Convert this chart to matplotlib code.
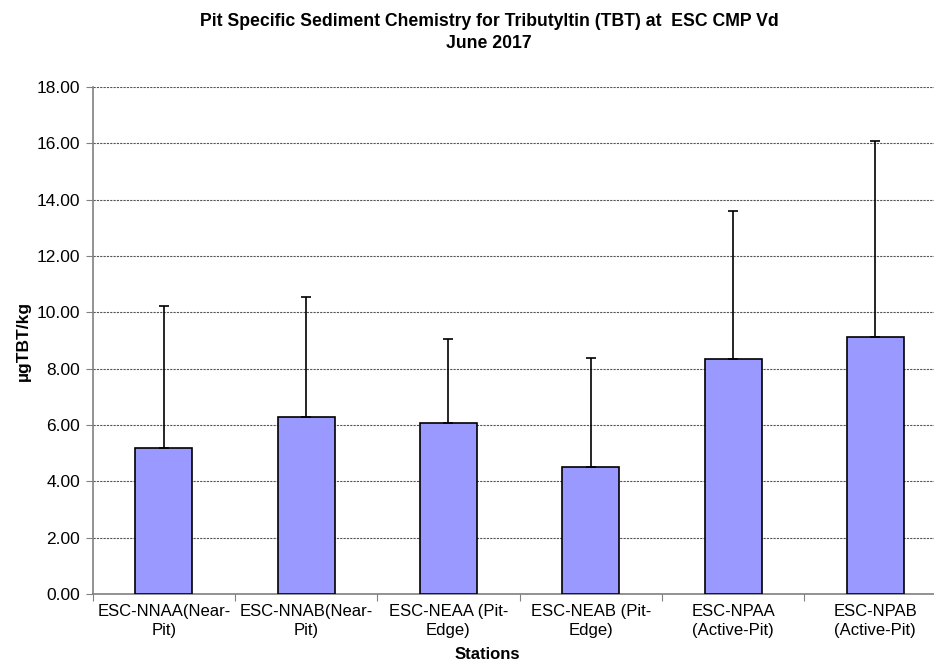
import numpy as np
import matplotlib.pyplot as plt

plt.rcParams['font.family'] = ['Liberation Sans', 'DejaVu Sans']

stations = ["ESC-NNAA(Near-\nPit)", "ESC-NNAB(Near-\nPit)", "ESC-NEAA (Pit-\nEdge)",
            "ESC-NEAB (Pit-\nEdge)", "ESC-NPAA\n(Active-Pit)", "ESC-NPAB\n(Active-Pit)"]
tbt_mean = [5.20, 6.28, 6.07, 4.50, 8.36, 9.11]
tbt_err = [5.02, 4.27, 2.98, 3.88, 5.22, 6.95]
y_ticks = [0, 2, 4, 6, 8, 10, 12, 14, 16, 18]

fig = plt.figure(figsize=(9.34, 6.64), dpi=100)
ax = fig.add_axes([0.0993, 0.105, 0.9141, 0.7644])

x = np.arange(len(stations))
ax.bar(x, tbt_mean, width=0.40, color="#9999ff", edgecolor="black", linewidth=1.2, zorder=3)
ax.errorbar(x, tbt_mean, yerr=[np.zeros(len(x)), tbt_err], fmt="none", ecolor="black",
            elinewidth=1.2, capsize=3.5, capthick=1.2, zorder=4)

ax.set_xlim(-0.5, len(stations) - 0.5)
ax.set_ylim(0, 18)
ax.set_yticks(y_ticks)
ax.set_yticklabels([f"{v:.2f}" for v in y_ticks], fontsize=12.5)
ax.yaxis.grid(True, linestyle=(0, (2, 1)), color="#555555", linewidth=0.8, zorder=0)

ax.set_xticks(np.arange(-0.5, len(stations)), minor=False)
ax.set_xticklabels([])
ax.set_xticks(x, minor=True)
ax.set_xticklabels(stations, minor=True, fontsize=12, linespacing=1.3)
ax.tick_params(axis='x', which='minor', length=0, pad=7)
ax.tick_params(axis='x', which='major', length=5, color="#808080", direction='out')
ax.tick_params(axis='y', length=5, color="#808080", direction='out', pad=4)

for s in ["top", "right"]:
    ax.spines[s].set_visible(False)
for s in ["left", "bottom"]:
    ax.spines[s].set_color("#808080")
    ax.spines[s].set_linewidth(1.2)

ax.set_ylabel("µgTBT/kg", fontsize=12.5, fontweight='bold')
ax.yaxis.set_label_coords(-0.073, 0.5)

fig.text(0.5214, 0.003, "Stations", ha='center', va='bottom', fontsize=12, fontweight='bold')
fig.text(0.5236, 0.967, "Pit Specific Sediment Chemistry for Tributyltin (TBT) at  ESC CMP Vd",
         ha='center', va='center', fontsize=12.7, fontweight='bold')
fig.text(0.5236, 0.935, "June 2017", ha='center', va='center', fontsize=12.7, fontweight='bold')

fig.savefig("out.png", dpi=100)
